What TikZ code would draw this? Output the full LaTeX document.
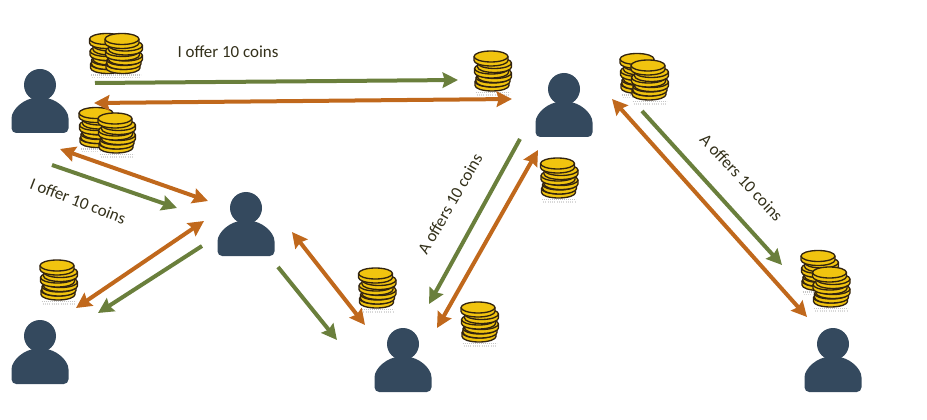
\documentclass[tikz,border=0pt]{standalone}
\usepackage{fontspec}
\setmainfont{Carlito}
\usetikzlibrary{arrows.meta}
\definecolor{personblue}{HTML}{34495E}
\definecolor{coingold}{HTML}{F1C40F}
\definecolor{coinedge}{HTML}{33240F}
\definecolor{labeltext}{HTML}{33301A}
\definecolor{arrowgreen}{HTML}{6A7F3C}
\definecolor{arroworange}{HTML}{C0681C}
\tikzset{
  greenarrow/.style={draw=arrowgreen,line width=3pt,-{Stealth[length=11.5pt,width=11.5pt,inset=1.5pt]}},
  orangearrow/.style={draw=arroworange,line width=3pt,{Stealth[length=11.5pt,width=11.5pt,inset=1.5pt]}-{Stealth[length=11.5pt,width=11.5pt,inset=1.5pt]}},
  offerlabel/.style={text=labeltext,font=\fontsize{12.7}{14}\selectfont,inner sep=0pt},
  person/.pic={
    \fill[personblue] (0,0) circle (12pt);
    \fill[personblue,rounded corners=3.5pt] (-28.5,48) -- (-28.5,38) .. controls (-28.5,24) and (-15,13) .. (0,13)
      .. controls (15,13) and (28.5,24) .. (28.5,38) -- (28.5,48) -- cycle;
  },
  coins/.pic={
    \draw[gray!45,dash pattern=on 0.7pt off 0.8pt,line width=0.8pt] (-17,21.5) -- (17,21.5);
    \draw[gray!30,dash pattern=on 0.7pt off 1pt,line width=0.8pt] (-16,24) -- (16,24);
    \foreach \cx/\cy in {-0.5/10.5,0.5/6.5,2/2,-1/-2.5,2/-8,-1.5/-14.5}{
      \filldraw[fill=coingold,draw=coinedge,line width=1pt]
        (\cx-17,\cy) -- (\cx-17,\cy+4) arc[start angle=180,end angle=0,x radius=17,y radius=5.5]
        -- (\cx+17,\cy) arc[start angle=0,end angle=-180,x radius=17,y radius=5.5] -- cycle;
      \draw[coinedge,line width=1pt] (\cx-17,\cy) arc[start angle=180,end angle=0,x radius=17,y radius=5.5];
    }
  }
}
\begin{document}
\begin{tikzpicture}[x=0.75pt,y=-0.75pt]
  \useasboundingbox (0,0) rectangle (927,420);
  % people
  \coordinate (userA) at (40,85);
  \coordinate (userB) at (564,89);
  \coordinate (userC) at (246,208);
  \coordinate (userD) at (40,336);
  \coordinate (userE) at (403,344);
  \coordinate (userF) at (833,344);
  \foreach \who in {userA,userB,userC,userD,userE,userF}
    \pic at (\who) {person};
  % coins
  \foreach \px/\py in {108/53.5,123.5/53.5,97.5/127.5,116.5/133,492.5/71,638.5/73.5,649.5/80,559/178,58.5/280,377/288,479.5/322,819.5/270.5,831/287}
    \pic at (\px,\py) {coins};
  % arrow ends
  \coordinate (g1a) at (95,83);     \coordinate (g1b) at (458,80);
  \coordinate (o1a) at (94,103);    \coordinate (o1b) at (512,99);
  \coordinate (o2a) at (60,149);    \coordinate (o2b) at (208,201);
  \coordinate (g2a) at (52,165);    \coordinate (g2b) at (177,208);
  \coordinate (o3a) at (204,221);   \coordinate (o3b) at (76,308);
  \coordinate (g3a) at (202,246);   \coordinate (g3b) at (98,313);
  \coordinate (o4a) at (292,232);   \coordinate (o4b) at (365,325);
  \coordinate (g4a) at (278,267);   \coordinate (g4b) at (337,340);
  \coordinate (g5a) at (520,139);   \coordinate (g5b) at (429,304);
  \coordinate (o5a) at (538,150);   \coordinate (o5b) at (437,328);
  \coordinate (o6a) at (612,99);    \coordinate (o6b) at (807,317);
  \coordinate (g6a) at (642,111);   \coordinate (g6b) at (782,265);
  \draw[greenarrow] (g1a) -- (g1b);
  \draw[orangearrow] (o1a) -- (o1b);
  \draw[orangearrow] (o2a) -- (o2b);
  \draw[greenarrow] (g2a) -- (g2b);
  \draw[orangearrow] (o3a) -- (o3b);
  \draw[greenarrow] (g3a) -- (g3b);
  \draw[orangearrow] (o4a) -- (o4b);
  \draw[greenarrow] (g4a) -- (g4b);
  \draw[greenarrow] (g5a) -- (g5b);
  \draw[orangearrow] (o5a) -- (o5b);
  \draw[orangearrow] (o6a) -- (o6b);
  \draw[greenarrow] (g6a) -- (g6b);
  % labels
  \node[offerlabel] (offer1) at (228,52) {I offer 10 coins};
  \node[offerlabel,rotate=-21] (offer2) at (78,201) {I offer 10 coins};
  \node[offerlabel,rotate=60] (offer3) at (450,204) {A offers 10 coins};
  \node[offerlabel,rotate=-47] (offer4) at (741.5,177.5) {A offers 10 coins};
\end{tikzpicture}
\end{document}
